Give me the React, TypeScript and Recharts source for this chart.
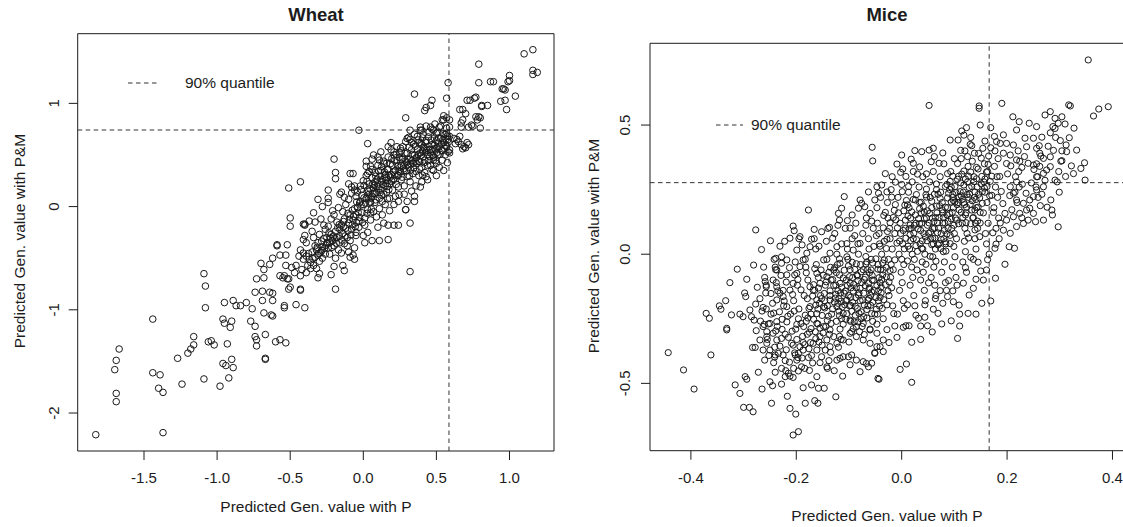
import React from "react";
import { ScatterChart, Scatter, XAxis, YAxis, ReferenceLine, ReferenceArea } from "recharts";

type P = [number, number];

// ---------------- Wheat (x = Predicted Gen. value with P, y = with P&M) ----------------
const wheatTail: P[] = [
  [-1.83,-2.21],[-1.37,-2.19],[-1.69,-1.89],[-1.69,-1.81],[-1.70,-1.58],[-1.69,-1.49],[-1.67,-1.38],[-1.44,-1.09],
  [-1.44,-1.61],[-1.39,-1.63],[-1.40,-1.76],[-1.37,-1.80],[-1.27,-1.47],[-1.24,-1.72],[-1.20,-1.42],[-1.18,-1.38],
  [-1.16,-1.34],[-1.16,-1.26],[-1.09,-1.67],[-1.09,-0.65],[-1.08,-0.77],[-1.08,-0.98],[-1.06,-1.31],[-1.04,-1.30],
  [-1.02,-1.34],[-0.98,-1.74],[-0.95,-0.93],[-0.96,-1.09],[-0.95,-1.13],[-0.93,-1.33],[-0.96,-1.52],[-0.94,-1.54],
  [-0.92,-1.66],[-0.91,-1.17],[-0.90,-1.11],[-0.89,-0.91],[-0.90,-1.48],[-0.89,-1.56],[-0.87,-0.96],[-0.84,-0.96],
  [-0.80,-0.93],[-0.76,-0.99],[-0.77,-1.11],[-0.74,-1.16],[-0.74,-1.26],[-0.73,-1.29],[-0.73,-1.35],[-0.67,-1.48],
  [-0.67,-1.47],[-0.67,-1.24],[-0.68,-1.03],[-0.69,-0.91],[-0.74,-0.83],[-0.73,-0.70],[-0.69,-0.82],[-0.68,-0.69],
  [-0.68,-0.61],[-0.70,-0.55],[-0.64,-0.56],[-0.64,-0.83],[-0.62,-0.84],[-0.63,-1.05],
];
const wheatLower: P[] = [
  [-0.60,-1.31],[-0.57,-1.29],[-0.53,-1.32],[-0.54,-0.98],[-0.46,-0.95],[-0.40,-0.98],[-0.62,-1.06],[-0.62,-0.91],
  [-0.50,-0.78],[-0.43,-0.81],[-0.19,-0.80],[-0.31,-0.69],[-0.22,-0.66],[-0.13,-0.62],[-0.14,-0.57],[-0.55,-0.69],
  [-0.52,-0.70],[-0.57,-0.67],[-0.50,-0.11],[-0.50,-0.19],[-0.40,-0.17],[-0.59,-0.37],[-0.52,-0.37],[-0.53,-0.47],
  [0.01,-0.35],[0.06,-0.33],[0.11,-0.33],[0.17,-0.32],[-0.05,-0.28],[-0.07,-0.47],[-0.09,-0.49],[-0.06,-0.51],
  [0.17,-0.18],[0.21,-0.18],[0.24,-0.18],[0.32,-0.16],[0.29,-0.03],[0.35,0.05],[0.32,-0.63],
  [-0.51,0.18],[-0.43,0.24],[-0.59,-0.38],[-0.62,-0.50],[-0.57,-0.47],[-0.53,-0.57],[-0.49,-0.59],[-0.46,-0.57],
  [-0.42,-0.61],[-0.54,-0.67],[-0.51,-0.70],[-0.47,-0.64],[-0.43,-0.67],[-0.51,-0.80],[-0.43,-0.80],[-0.54,-0.96],
  [-0.41,-0.17],[-0.40,-0.18],[-0.37,-0.14],[-0.40,-0.28],[-0.41,-0.32],[-0.39,-0.35],
  [-0.43,-0.42],[-0.41,-0.45],[-0.44,-0.48],[-0.41,-0.51],[-0.39,-0.48],[-0.37,-0.51],[-0.36,-0.54],[-0.34,-0.57],
  [-0.38,-0.57],[-0.39,-0.64],[-0.36,-0.60],[-0.33,-0.49],[-0.35,-0.44],[-0.31,-0.47],[-0.30,-0.53],[-0.28,-0.50],
  [-0.32,-0.60],[-0.30,-0.65],
];
const wheatBand: P[] = [
  [-0.34,-0.30],[-0.33,-0.38],[-0.32,-0.42],[-0.31,-0.35],[-0.30,-0.27],[-0.29,-0.44],[-0.28,-0.39],[-0.27,-0.31],
  [-0.26,-0.46],[-0.26,-0.22],[-0.33,-0.15],[-0.29,-0.12],[-0.27,-0.18],[-0.35,-0.24],[-0.25,-0.36],[-0.31,0.07],
  [-0.28,0.00],[-0.34,-0.06],
  [-0.25,-0.30],[-0.24,-0.40],[-0.23,-0.35],[-0.22,-0.27],[-0.21,-0.33],[-0.20,-0.38],[-0.19,-0.24],[-0.18,-0.30],
  [-0.17,-0.42],[-0.16,-0.22],[-0.24,-0.19],[-0.22,-0.12],[-0.20,-0.08],[-0.18,-0.15],[-0.16,-0.35],[-0.23,-0.46],
  [-0.19,-0.50],[-0.21,-0.04],[-0.17,-0.01],[-0.24,0.04],[-0.16,0.12],[-0.20,-0.58],[-0.15,-0.45],
  [-0.15,-0.18],[-0.14,-0.26],[-0.13,-0.12],[-0.12,-0.21],[-0.11,-0.30],[-0.10,-0.16],[-0.09,-0.08],[-0.08,-0.22],
  [-0.07,-0.13],[-0.06,-0.02],[-0.14,-0.05],[-0.12,0.02],[-0.10,0.07],[-0.08,0.13],[-0.06,0.20],[-0.11,-0.38],
  [-0.09,-0.33],[-0.13,-0.36],[-0.05,-0.25],[-0.05,0.10],[-0.13,0.09],[-0.10,-0.44],[-0.06,-0.40],
  [-0.05,-0.08],[-0.04,-0.01],[-0.03,-0.14],[-0.02,0.05],[-0.01,-0.06],[0.00,0.02],[0.01,-0.11],[0.02,0.08],
  [0.03,-0.03],[0.04,0.12],[0.05,0.04],[-0.04,0.14],[-0.02,0.20],[0.00,0.25],[0.02,0.30],[0.04,0.22],
  [-0.03,-0.20],[0.01,-0.18],[0.03,-0.25],[0.05,-0.13],[0.02,0.39],[0.04,0.34],[-0.01,0.11],[0.03,0.16],
  [0.05,-0.06],[0.00,-0.28],
  [0.06,0.10],[0.07,0.18],[0.08,0.04],[0.09,0.14],[0.10,0.22],[0.11,0.08],[0.12,0.16],[0.13,0.26],
  [0.14,0.12],[0.15,0.20],[0.06,0.28],[0.08,0.33],[0.10,0.40],[0.12,0.35],[0.14,0.44],[0.07,-0.05],
  [0.09,-0.10],[0.11,-0.02],[0.13,-0.08],[0.15,0.02],[0.10,-0.20],[0.14,-0.16],[0.06,0.46],[0.12,0.53],
  [0.15,0.31],[0.08,0.24],[0.13,0.05],
  [0.16,0.28],[0.17,0.36],[0.18,0.22],[0.19,0.31],[0.20,0.40],[0.21,0.27],[0.22,0.35],[0.23,0.45],
  [0.24,0.30],[0.25,0.38],[0.16,0.14],[0.18,0.08],[0.20,0.16],[0.22,0.10],[0.24,0.19],[0.17,0.48],
  [0.19,0.55],[0.21,0.50],[0.23,0.58],[0.25,0.52],[0.18,-0.04],[0.21,0.02],[0.19,0.62],[0.24,0.05],[0.16,0.42],
  [0.26,0.40],[0.27,0.47],[0.28,0.35],[0.29,0.44],[0.30,0.52],[0.31,0.38],[0.32,0.46],[0.33,0.55],
  [0.34,0.42],[0.35,0.50],[0.26,0.26],[0.28,0.20],[0.30,0.29],[0.32,0.24],[0.34,0.32],[0.27,0.58],
  [0.29,0.63],[0.31,0.67],[0.33,0.62],[0.35,0.70],[0.28,0.12],[0.33,0.15],[0.30,0.05],[0.35,0.10],[0.26,0.54],
  [0.36,0.47],[0.37,0.55],[0.38,0.44],[0.39,0.52],[0.40,0.60],[0.41,0.48],[0.42,0.56],[0.43,0.64],
  [0.44,0.50],[0.45,0.58],[0.36,0.34],[0.38,0.30],[0.40,0.38],[0.42,0.33],[0.44,0.40],[0.37,0.68],
  [0.39,0.74],[0.41,0.70],[0.43,0.78],[0.45,0.72],[0.36,0.20],[0.40,0.24],[0.44,0.26],[0.38,0.62],[0.42,0.45],
  [0.46,0.52],[0.47,0.60],[0.48,0.48],[0.49,0.56],[0.50,0.64],[0.51,0.50],[0.52,0.58],[0.53,0.66],
  [0.54,0.54],[0.55,0.62],[0.56,0.70],[0.57,0.58],[0.46,0.40],[0.48,0.35],[0.50,0.42],[0.52,0.38],
  [0.54,0.45],[0.56,0.50],[0.47,0.75],[0.49,0.80],[0.51,0.72],[0.53,0.78],[0.55,0.84],[0.57,0.76],
  [0.50,0.30],[0.55,0.35],[0.58,0.62],[0.58,0.53],
];
const wheatBandExtra: P[] = [
  [-0.305,-0.455],[-0.285,-0.335],[-0.265,-0.405],[-0.245,-0.345],[-0.235,-0.255],[-0.215,-0.395],[-0.205,-0.285],[-0.185,-0.355],
  [-0.175,-0.205],[-0.165,-0.285],[-0.145,-0.325],[-0.135,-0.195],[-0.125,-0.285],[-0.105,-0.235],[-0.095,-0.125],[-0.085,-0.275],
  [-0.075,-0.175],[-0.065,-0.095],[-0.045,-0.155],[-0.035,-0.055],[-0.025,-0.105],[-0.015,0.015],[-0.005,-0.155],[0.015,0.035],
  [0.025,-0.065],[0.035,0.075],[0.045,0.175],[0.055,0.085],[0.065,0.215],[0.075,0.125],[0.085,0.065],[0.095,0.265],
  [0.105,0.175],[0.115,0.295],[0.125,0.115],[0.135,0.215],[0.145,0.335],[0.155,0.255],[0.165,0.195],[0.175,0.305],
  [0.185,0.415],[0.195,0.245],[0.205,0.335],[0.215,0.445],[0.225,0.215],[0.235,0.395],[0.245,0.475],[0.255,0.335],
  [0.265,0.455],[0.275,0.395],[0.285,0.515],[0.295,0.345],[0.305,0.455],[0.315,0.575],[0.325,0.415],[0.335,0.505],
  [0.345,0.375],[0.355,0.585],[0.365,0.415],[0.375,0.505],[0.385,0.365],[0.395,0.615],[0.405,0.535],[0.415,0.425],
  [0.425,0.625],[0.435,0.545],[0.445,0.675],[0.455,0.485],[0.465,0.645],[0.475,0.555],[0.485,0.665],[0.495,0.445],
  [0.505,0.575],[0.515,0.665],[0.525,0.505],[0.535,0.605],[0.545,0.705],[0.555,0.565],[0.565,0.655],[0.575,0.425],
  [-0.015,0.165],[0.005,0.205],[0.025,0.245],[0.105,0.345],[-0.055,-0.195],[0.055,-0.025],[0.165,0.075],[0.245,0.115],
  [0.315,0.295],[0.405,0.305],
];
const wheatBandExtra2: P[] = [
  [0.005,0.085],[0.035,0.145],[0.065,0.125],[0.095,0.195],[0.125,0.245],[0.155,0.225],[0.185,0.285],[0.215,0.305],
  [0.245,0.345],[0.275,0.365],[0.305,0.405],[0.335,0.445],[0.365,0.475],[0.395,0.495],[0.425,0.525],[0.455,0.555],
  [0.485,0.595],[0.515,0.615],[0.545,0.645],[0.575,0.685],[-0.025,0.035],[0.045,0.045],[0.075,0.205],[0.115,0.135],
  [0.145,0.285],[0.175,0.165],[0.205,0.255],[0.235,0.305],[0.265,0.285],[0.295,0.425],[0.325,0.355],[0.355,0.435],
  [0.385,0.435],[0.415,0.575],[0.445,0.445],[0.475,0.495],[0.505,0.525],[0.535,0.545],[0.565,0.595],[-0.105,-0.065],
  [-0.135,-0.145],[-0.165,-0.175],[-0.195,-0.305],[-0.225,-0.305],[-0.255,-0.375],[-0.285,-0.425],[-0.315,-0.395],[-0.345,-0.505],
  [-0.375,-0.455],[-0.075,-0.035],[-0.045,0.045],[0.085,0.295],[0.125,0.385],[0.165,0.355],[0.195,0.465],[0.225,0.505],
  [0.255,0.565],[0.345,0.605],[0.375,0.645],[0.405,0.665],
];
const wheatUpper: P[] = [
  [1.16,1.52],[1.10,1.48],[1.16,1.32],[1.19,1.30],[1.16,1.28],[0.79,1.38],[0.79,1.20],[0.87,1.21],
  [0.89,1.21],[1.00,1.27],[1.00,1.22],[0.99,1.21],[0.96,1.14],[0.97,1.13],[0.95,1.14],[1.04,1.07],
  [0.94,1.02],[0.97,1.03],[0.98,0.94],[0.85,0.98],[0.81,0.98],[0.77,1.06],[0.73,1.03],[0.58,1.20],
  [0.57,1.05],[0.35,1.09],[0.47,1.03],[0.46,0.98],[0.43,0.96],[0.42,0.93],[0.29,0.86],[0.55,0.88],
  [0.57,0.86],[0.59,0.84],[0.66,0.94],[0.68,0.94],[0.70,0.90],[0.68,0.84],[0.67,0.81],[0.79,0.87],
  [0.78,0.84],[0.80,0.86],[0.74,0.79],[0.75,0.78],[0.72,0.77],[0.80,0.76],[0.67,0.77],[0.65,0.63],
  [0.67,0.60],[0.69,0.58],[0.71,0.62],[0.64,0.65],[0.66,0.68],[0.70,0.57],[0.72,0.60],[0.68,0.56],
  [0.62,0.66],[0.63,0.61],[0.59,0.77],[0.57,0.71],[0.59,0.68],[0.58,0.65],[0.59,0.55],[0.59,0.52],
  [0.52,0.77],[0.54,0.84],[0.50,0.71],[0.48,0.74],[0.46,0.77],[0.48,0.45],[0.47,0.36],[0.43,0.29],
  [0.39,0.19],[0.29,-0.03],[0.30,0.66],[0.32,0.65],[0.39,0.77],[0.40,0.74],[-0.03,0.74],
  [0.32,0.74],[0.03,0.61],[-0.20,0.46],[-0.19,0.33],[-0.19,0.27],[-0.24,0.16],[-0.24,0.08],[-0.15,0.14],
  [-0.09,0.32],[-0.07,0.32],[-0.10,0.22],[-0.08,0.19],[-0.06,0.16],[0.07,0.50],[0.10,0.48],[0.11,0.45],
  [0.14,0.42],[0.17,0.58],[0.21,0.53],[0.02,0.44],[0.05,0.39],[0.06,0.36],[0.03,0.32],[0.71,1.03],
  [0.76,1.05],[0.81,0.97],[0.77,0.87],
];

// ---------------- Mice ----------------
const miceHigh: P[] = [
  [0.354,0.752],[0.052,0.576],[0.147,0.574],[0.147,0.565],[0.19,0.584],[0.317,0.578],[0.32,0.574],[0.392,0.571],
  [0.374,0.562],[0.364,0.535],[0.211,0.532],[0.169,0.49],[0.149,0.5],[0.123,0.49],[0.114,0.477],[0.118,0.461],
  [0.272,0.539],[0.282,0.552],[0.291,0.526],[0.304,0.532],[0.297,0.507],[0.287,0.494],[0.282,0.47],[0.291,0.487],
  [0.31,0.504],[0.223,0.513],[0.242,0.507],[0.256,0.494],[0.218,0.481],[0.092,0.442],[0.107,0.442],[0.13,0.425],
  [0.312,0.423],[0.332,0.403],[0.313,0.397],[0.347,0.354],[0.34,0.332],[0.348,0.287],[0.291,0.287],[0.283,0.21],
  [0.285,0.171],[0.286,0.152],[0.297,0.106],[0.269,0.132],[0.254,0.126],
  [-0.056,0.414],[-0.055,0.361],[0.0,0.384],[0.025,0.401],[0.038,0.397],[0.052,0.403],[0.06,0.41],[-0.009,0.349],
  [-0.002,0.317],[0.022,0.352],[0.03,0.31],[0.056,0.358],[0.071,0.352],
  [0.18,0.436],[0.187,0.429],[0.199,0.429],[0.212,0.423],[0.234,0.449],[0.25,0.449],[0.266,0.453],[0.237,0.416],
  [0.256,0.41],[0.193,0.391],[0.206,0.384],[0.218,0.365],[0.24,0.352],[0.25,0.345],[0.262,0.391],[0.269,0.371],
  [0.282,0.377],[0.275,0.326],[0.282,0.339],[0.269,0.313],[0.256,0.3],
  [0.206,0.261],[0.212,0.236],[0.218,0.21],[0.231,0.197],[0.243,0.21],[0.25,0.223],[0.256,0.249],[0.269,0.261],
  [0.237,0.171],[0.224,0.158],[0.212,0.145],[0.199,0.132],[0.193,0.093],[0.206,0.081],[0.218,0.107],[0.231,0.119],
  [0.24,0.132],[0.25,0.158],
];
const miceUpperLeft: P[] = [
  [-0.109,0.223],[-0.177,0.171],[-0.277,0.094],[-0.206,0.109],[-0.204,0.091],[-0.212,0.062],[-0.193,0.068],[-0.166,0.096],
  [-0.137,0.104],[-0.12,0.158],[-0.114,0.178],[-0.118,0.132],[-0.103,0.13],[-0.094,0.152],[-0.082,0.178],[-0.076,0.197],
  [-0.079,0.21],[-0.07,0.184],[-0.06,0.158],[-0.051,0.21],[-0.044,0.236],[-0.047,0.261],
];
const miceLowerRight: P[] = [
  [0.214,0.023],[0.204,0.029],[0.196,-0.039],[0.179,0.039],[0.177,0.023],[0.178,-0.093],[0.161,-0.061],[0.15,-0.065],
  [0.155,-0.1],[0.141,-0.097],[0.136,-0.132],[0.152,-0.19],[0.169,-0.181],[0.141,-0.232],[0.126,-0.229],[0.11,-0.232],
  [0.109,-0.197],[0.11,-0.278],[0.106,-0.326],[0.098,-0.184],[0.087,-0.164],[0.078,-0.19],[0.076,-0.27],[0.06,-0.213],
  [0.069,-0.229],[0.049,-0.277],[0.044,-0.244],[0.036,-0.278],[0.036,-0.33],[0.032,-0.248],[0.019,-0.341],[0.009,-0.425],
  [-0.003,-0.446],[0.019,-0.496],[-0.043,-0.484],[-0.057,-0.422],[0.003,-0.283],[0.008,-0.277],[0.014,-0.277],[-0.035,-0.332],
  [-0.035,-0.377],[-0.051,-0.381],[-0.041,-0.358],
];
const miceLowerLeft: P[] = [
  [-0.443,-0.381],[-0.414,-0.448],[-0.394,-0.522],[-0.362,-0.39],[-0.371,-0.229],[-0.365,-0.248],[-0.332,-0.287],[-0.332,-0.293],
  [-0.343,-0.213],[-0.334,-0.18],[-0.326,-0.11],[-0.312,-0.058],[-0.294,-0.097],[-0.296,-0.164],[-0.323,-0.235],[-0.307,-0.232],
  [-0.301,-0.242],[-0.288,-0.216],[-0.285,-0.242],[-0.277,-0.193],[-0.28,-0.255],[-0.263,-0.206],[-0.268,-0.259],[-0.253,-0.27],
  [-0.256,-0.319],[-0.283,-0.361],[-0.278,-0.361],[-0.297,-0.474],[-0.294,-0.484],[-0.316,-0.506],[-0.307,-0.539],[-0.3,-0.593],
  [-0.289,-0.593],[-0.282,-0.61],[-0.272,-0.457],[-0.265,-0.522],[-0.25,-0.494],[-0.245,-0.509],[-0.247,-0.577],[-0.24,-0.457],
  [-0.228,-0.442],[-0.22,-0.451],[-0.221,-0.474],[-0.212,-0.472],[-0.206,-0.477],[-0.215,-0.461],[-0.228,-0.503],[-0.212,-0.597],
  [-0.201,-0.619],[-0.206,-0.7],[-0.196,-0.687],[-0.183,-0.577],[-0.187,-0.517],[-0.171,-0.506],[-0.161,-0.474],[-0.158,-0.519],
  [-0.147,-0.519],[-0.165,-0.567],[-0.159,-0.577],[-0.125,-0.552],[-0.142,-0.436],[-0.141,-0.442],
  [-0.263,-0.371],[-0.25,-0.371],[-0.24,-0.39],[-0.234,-0.384],[-0.225,-0.39],[-0.256,-0.345],[-0.237,-0.332],[-0.228,-0.326],
  [-0.244,-0.306],[-0.256,-0.3],[-0.263,-0.28],[-0.25,-0.268],[-0.237,-0.261],[-0.199,-0.41],[-0.202,-0.39],[-0.196,-0.384],
  [-0.193,-0.358],[-0.187,-0.371],[-0.19,-0.436],[-0.184,-0.442],[-0.206,-0.352],[-0.209,-0.345],[-0.123,-0.41],[-0.117,-0.403],
  [-0.111,-0.397],[-0.101,-0.397],[-0.095,-0.39],[-0.086,-0.41],[-0.079,-0.455],[-0.067,-0.423],[-0.063,-0.436],[-0.051,-0.384],
  [-0.045,-0.481],[-0.073,-0.416],[-0.298,-0.15],[-0.346,-0.2],[-0.26,-0.09],[-0.24,-0.05],[-0.239,-0.016],[-0.228,-0.01],
];
const miceCoreLeft: P[] = [
  [-0.237,-0.177],[-0.225,-0.164],[-0.218,-0.203],[-0.212,-0.139],[-0.206,-0.113],[-0.199,-0.074],[-0.193,-0.048],[-0.187,-0.022],
  [-0.18,0.004],[-0.199,0.016],[-0.174,0.029],[-0.218,-0.022],[-0.228,-0.035],[-0.237,-0.061],[-0.244,-0.1],[-0.237,-0.126],
  [-0.259,-0.106],[-0.257,-0.126],[-0.231,-0.151],
  [-0.161,-0.268],[-0.148,-0.28],[-0.136,-0.293],[-0.155,-0.319],[-0.142,-0.332],[-0.129,-0.319],[-0.123,-0.345],[-0.168,-0.345],
  [-0.161,-0.371],[-0.145,-0.371],[-0.136,-0.358],[-0.111,-0.332],[-0.098,-0.306],[-0.086,-0.319],[-0.073,-0.332],[-0.06,-0.345],
  [-0.047,-0.358],[-0.174,-0.203],[-0.161,-0.177],[-0.148,-0.203],[-0.136,-0.177],[-0.123,-0.203],[-0.111,-0.229],[-0.098,-0.255],
  [-0.086,-0.28],[-0.073,-0.268],[-0.06,-0.293],[-0.047,-0.306],[-0.168,-0.139],[-0.155,-0.113],[-0.142,-0.087],[-0.129,-0.061],
  [-0.117,-0.035],[-0.104,-0.01],[-0.092,0.016],[-0.079,0.042],[-0.161,-0.074],[-0.148,-0.022],[-0.136,0.004],[-0.123,0.029],
  [-0.262,-0.05],[-0.258,-0.15],[-0.265,-0.22],[-0.255,-0.33],[-0.26,-0.41],[-0.257,-0.12],
  [-0.242,-0.02],[-0.238,-0.11],[-0.245,-0.19],[-0.236,-0.28],[-0.241,-0.36],[-0.239,-0.06],[-0.243,-0.42],
  [-0.222,0.05],[-0.218,-0.08],[-0.225,-0.14],[-0.216,-0.24],[-0.221,-0.31],[-0.219,-0.37],[-0.224,-0.2],[-0.217,-0.55],
  [-0.202,-0.03],[-0.198,-0.12],[-0.205,-0.18],[-0.196,-0.25],[-0.201,-0.29],[-0.199,-0.33],[-0.204,-0.22],[-0.197,-0.4],
  [-0.203,-0.08],[-0.195,0.06],
  [-0.182,-0.05],[-0.178,-0.1],[-0.185,-0.16],[-0.176,-0.21],[-0.181,-0.26],[-0.179,-0.31],[-0.184,-0.35],[-0.177,-0.4],
  [-0.183,-0.02],[-0.175,-0.45],[-0.186,-0.28],
  [-0.162,-0.04],[-0.158,-0.09],[-0.165,-0.14],[-0.156,-0.19],[-0.161,-0.23],[-0.159,-0.27],[-0.164,-0.3],[-0.157,-0.34],
  [-0.163,0.02],[-0.155,-0.42],[-0.166,0.06],[-0.154,-0.16],
  [-0.142,-0.02],[-0.138,-0.07],[-0.145,-0.12],[-0.136,-0.16],[-0.141,-0.2],[-0.139,-0.24],[-0.144,-0.28],[-0.137,-0.31],
  [-0.143,0.05],[-0.135,-0.38],[-0.146,-0.18],[-0.134,-0.1],[-0.14,0.1],
  [-0.122,-0.04],[-0.118,-0.08],[-0.125,-0.12],[-0.116,-0.15],[-0.121,-0.19],[-0.119,-0.22],[-0.124,-0.26],[-0.117,-0.29],
  [-0.123,0.0],[-0.115,-0.33],[-0.126,-0.17],[-0.114,0.04],[-0.12,-0.36],[-0.127,0.08],
  [-0.102,-0.02],[-0.098,-0.06],[-0.105,-0.1],[-0.096,-0.13],[-0.101,-0.16],[-0.099,-0.2],[-0.104,-0.23],[-0.097,-0.26],
  [-0.103,0.02],[-0.095,-0.3],[-0.106,-0.18],[-0.094,0.06],[-0.1,-0.34],[-0.107,0.1],[-0.093,-0.09],
  [-0.082,0.0],[-0.078,-0.04],[-0.085,-0.08],[-0.076,-0.11],[-0.081,-0.15],[-0.079,-0.18],[-0.084,-0.21],[-0.077,-0.25],
  [-0.083,0.04],[-0.075,-0.28],[-0.086,-0.13],[-0.074,0.08],[-0.08,-0.3],[-0.087,0.12],[-0.073,-0.06],
];
const miceCoreRight: P[] = [
  [-0.062,0.02],[-0.058,-0.02],[-0.065,-0.06],[-0.056,-0.1],[-0.061,-0.13],[-0.059,-0.16],[-0.064,-0.2],[-0.057,-0.23],
  [-0.063,0.06],[-0.055,-0.26],[-0.066,-0.03],[-0.054,0.1],[-0.06,-0.29],[-0.067,0.14],[-0.053,0.03],
  [-0.042,0.04],[-0.038,0.0],[-0.045,-0.04],[-0.036,-0.08],[-0.041,-0.11],[-0.039,-0.15],[-0.044,-0.18],[-0.037,-0.21],
  [-0.043,0.08],[-0.035,-0.25],[-0.046,0.12],[-0.034,0.15],[-0.04,-0.06],[-0.047,0.18],[-0.033,0.05],[-0.04,0.22],
  [-0.022,0.06],[-0.018,0.02],[-0.025,-0.02],[-0.016,-0.06],[-0.021,-0.09],[-0.019,-0.13],[-0.024,-0.16],[-0.017,-0.2],
  [-0.023,0.1],[-0.015,-0.23],[-0.026,0.14],[-0.014,0.17],[-0.02,-0.04],[-0.027,0.2],[-0.013,0.08],[-0.02,0.25],[-0.018,0.3],
  [-0.002,0.08],[0.002,0.04],[-0.005,0.0],[0.004,-0.04],[-0.001,-0.07],[0.001,-0.11],[-0.004,-0.14],[0.003,-0.18],
  [-0.003,0.12],[0.005,-0.21],[-0.006,0.16],[0.006,0.19],[0.0,-0.02],[-0.007,0.22],[0.007,0.1],[0.0,0.27],[0.002,0.33],
  [0.018,0.1],[0.022,0.06],[0.015,0.02],[0.024,-0.02],[0.019,-0.05],[0.021,-0.09],[0.016,-0.12],[0.023,-0.16],
  [0.017,0.14],[0.025,-0.2],[0.014,0.18],[0.026,0.21],[0.02,0.0],[0.013,0.24],[0.027,0.12],[0.02,0.28],[0.022,0.32],
  [0.038,0.12],[0.042,0.08],[0.035,0.04],[0.044,0.0],[0.039,-0.03],[0.041,-0.07],[0.036,-0.1],[0.043,-0.14],
  [0.037,0.16],[0.045,-0.18],[0.034,0.2],[0.046,0.23],[0.04,0.02],[0.033,0.26],[0.047,0.14],[0.04,0.3],
  [0.058,0.14],[0.062,0.1],[0.055,0.06],[0.064,0.02],[0.059,-0.01],[0.061,-0.05],[0.056,-0.09],[0.063,-0.12],
  [0.057,0.18],[0.065,-0.16],[0.054,0.22],[0.066,0.25],[0.06,0.04],[0.053,0.28],[0.067,0.16],[0.06,0.32],
  [0.078,0.16],[0.082,0.12],[0.075,0.08],[0.084,0.04],[0.079,0.01],[0.081,-0.03],[0.076,-0.07],[0.083,-0.11],
  [0.077,0.2],[0.085,-0.14],[0.074,0.24],[0.086,0.27],[0.08,0.06],[0.073,0.3],[0.087,0.18],[0.08,0.35],
  [0.098,0.18],[0.102,0.14],[0.095,0.1],[0.104,0.06],[0.099,0.03],[0.101,-0.01],[0.096,-0.05],[0.103,-0.09],
  [0.097,0.22],[0.105,-0.12],[0.094,0.26],[0.106,0.29],[0.1,0.08],[0.093,0.32],[0.107,0.2],[0.1,0.37],
  [0.118,0.2],[0.122,0.16],[0.115,0.12],[0.124,0.08],[0.119,0.05],[0.121,0.01],[0.116,-0.03],[0.123,-0.07],
  [0.117,0.24],[0.125,0.28],[0.114,0.31],[0.126,0.34],[0.12,0.1],[0.113,0.37],[0.127,0.22],[0.12,0.4],
  [0.138,0.22],[0.142,0.18],[0.135,0.14],[0.144,0.1],[0.139,0.06],[0.141,0.02],[0.136,-0.02],[0.143,0.26],
  [0.137,0.3],[0.145,0.33],[0.134,0.36],[0.146,0.39],[0.14,0.12],[0.133,0.42],
  [0.158,0.24],[0.162,0.2],[0.155,0.16],[0.164,0.12],[0.159,0.08],[0.161,0.04],[0.156,0.28],[0.163,0.32],
  [0.157,0.35],[0.165,0.38],[0.154,0.41],[0.166,0.0],
  [0.178,0.26],[0.182,0.22],[0.175,0.18],[0.184,0.14],[0.179,0.1],[0.181,0.3],[0.176,0.34],[0.183,0.37],
  [0.177,0.4],[0.185,0.06],
  [0.218,0.28],[0.222,0.32],[0.215,0.24],[0.224,0.36],[0.219,0.2],[0.221,0.4],[0.216,0.3],[0.223,0.26],
  [0.258,0.3],[0.262,0.34],[0.255,0.26],[0.264,0.38],[0.259,0.22],[0.261,0.42],[0.256,0.35],
  [0.298,0.32],[0.302,0.36],[0.295,0.28],[0.304,0.4],[0.299,0.24],[0.301,0.44],
];
const miceDenseA: P[] = [
  [-0.128,-0.185],[-0.113,-0.205],[-0.107,-0.143],[-0.091,-0.117],[-0.088,-0.236],[-0.071,-0.197],[-0.069,-0.089],[-0.052,-0.141],
  [-0.048,-0.213],[-0.031,-0.118],[-0.029,-0.051],[-0.117,-0.113],[-0.109,-0.062],[-0.094,-0.031],[-0.087,-0.168],[-0.066,-0.247],
  [-0.058,-0.061],[-0.049,-0.018],[-0.133,-0.232],[-0.127,-0.052],[-0.111,-0.271],[-0.097,-0.198],[-0.083,-0.102],[-0.072,-0.151],
  [-0.063,-0.112],[-0.041,-0.167],[-0.036,-0.034],[-0.121,-0.141],[-0.104,-0.178],[-0.089,-0.059],[-0.077,-0.223],[-0.068,-0.038],
  [-0.055,-0.186],[-0.043,-0.091],[-0.131,-0.098],[-0.114,-0.249],[-0.099,-0.087],[-0.083,-0.262],[-0.062,-0.171],[-0.046,-0.232],
  [-0.151,-0.237],[-0.147,-0.152],[-0.153,-0.061],[-0.167,-0.118],[-0.172,-0.232],[-0.149,-0.305],[-0.134,-0.268],[-0.118,-0.318],
  [-0.092,-0.288],[-0.071,-0.311],
];
const miceDenseB: P[] = [
  [0.008,0.062],[0.012,0.148],[0.027,0.033],[0.031,0.098],[0.034,0.176],[0.048,0.052],[0.052,0.121],[0.057,0.205],
  [0.068,0.083],[0.071,0.142],[0.074,0.022],[0.088,0.101],[0.091,0.157],[0.011,-0.026],[0.029,-0.061],[0.046,-0.039],
  [0.065,-0.027],[0.083,0.048],[0.009,0.208],[0.028,0.231],[0.049,0.168],[0.063,0.062],[0.078,0.121],[0.092,0.041],
  [0.016,0.113],[0.043,0.137],[0.059,0.099],[0.072,0.188],[0.087,0.218],[0.004,0.168],[0.023,0.082],[0.038,0.023],
  [0.054,-0.008],[0.069,0.036],[0.086,0.078],[-0.009,0.043],[-0.011,0.133],[-0.027,0.088],[-0.031,0.162],[-0.048,0.072],
  [-0.013,-0.022],[-0.029,0.022],[0.047,0.252],[0.066,0.272],[0.013,0.262],
];
const miceDenseC: P[] = [
  [0.091,0.251],[0.097,0.302],[0.103,0.238],[0.109,0.172],[0.112,0.276],[0.118,0.322],[0.123,0.182],[0.128,0.258],
  [0.131,0.118],[0.134,0.207],[0.137,0.281],[0.142,0.336],[0.146,0.232],[0.149,0.162],[0.152,0.301],[0.108,0.118],
  [0.116,0.142],[0.127,0.063],[0.139,0.094],[0.148,0.068],[0.094,0.137],[0.101,0.202],[0.113,0.226],[0.121,0.291],
  [0.133,0.171],[0.144,0.128],[0.153,0.197],[0.157,0.256],[0.161,0.318],[0.168,0.282],[0.171,0.228],[0.174,0.162],
  [0.186,0.301],[0.189,0.243],[0.192,0.196],[0.196,0.158],[0.199,0.351],[0.201,0.311],[0.205,0.227],[0.209,0.172],
  [0.164,0.348],[0.151,0.372],[0.138,0.391],[0.125,0.378],[0.106,0.351],[0.087,0.312],
];
const miceDenseD: P[] = [
  [-0.125,-0.155],[-0.119,-0.172],[-0.114,-0.128],[-0.108,-0.196],[-0.103,-0.121],[-0.097,-0.167],[-0.092,-0.143],[-0.088,-0.201],
  [-0.084,-0.084],[-0.079,-0.132],[-0.074,-0.178],[-0.069,-0.122],[-0.066,-0.214],[-0.061,-0.071],[-0.057,-0.146],[-0.053,-0.101],
  [-0.049,-0.168],[-0.045,-0.058],[-0.039,-0.127],[-0.034,-0.176],[-0.029,-0.088],[-0.026,-0.142],[-0.022,-0.063],[-0.124,-0.071],
  [-0.118,-0.238],[-0.111,-0.092],[-0.106,-0.252],[-0.101,-0.045],[-0.095,-0.221],[-0.09,-0.262],[-0.086,-0.037],[-0.081,-0.229],
  [-0.077,-0.068],[-0.072,-0.242],[-0.068,-0.009],[-0.064,-0.177],[-0.059,-0.198],[-0.055,-0.034],[-0.051,-0.232],[-0.047,-0.121],
  [-0.042,-0.201],[-0.038,-0.098],[-0.033,-0.022],[-0.028,-0.196],[-0.024,-0.107],[-0.115,-0.182],[-0.109,-0.151],[-0.098,-0.112],
  [-0.093,-0.187],[-0.082,-0.158],[-0.071,-0.098],[-0.062,-0.135],[-0.056,-0.082],[-0.044,-0.141],[-0.035,-0.061],[-0.131,-0.212],
  [-0.136,-0.142],[-0.129,-0.121],[-0.141,-0.257],[-0.146,-0.208],[-0.152,-0.172],[-0.158,-0.131],[-0.163,-0.197],[-0.169,-0.162],
  [-0.174,-0.126],[-0.143,-0.107],[-0.149,-0.081],[-0.135,-0.051],[-0.118,-0.018],[-0.104,0.041],
];
const miceDenseE: P[] = [
  [-0.004,0.051],[0.003,0.092],[0.007,0.132],[0.012,0.031],[0.016,0.076],[0.019,0.164],[0.024,0.112],[0.028,0.057],
  [0.032,0.137],[0.036,0.092],[0.041,0.186],[0.045,0.067],[0.049,0.112],[0.053,0.158],[0.057,0.037],[0.061,0.126],
  [0.066,0.186],[0.07,0.101],[0.075,0.057],[0.079,0.142],[0.083,0.182],[0.088,0.127],[0.092,0.073],[0.096,0.162],
  [0.005,0.021],[0.011,0.191],[0.022,0.212],[0.03,0.011],[0.039,0.052],[0.047,0.221],[0.055,0.087],[0.064,0.142],
  [0.073,0.216],[0.081,0.092],[0.089,0.236],[0.094,0.202],[-0.008,0.102],[-0.016,0.142],[-0.022,0.122],[-0.028,0.058],
  [-0.035,0.102],[-0.041,0.031],[-0.012,0.192],[-0.019,0.221],[0.001,0.242],[0.017,0.053],[0.026,0.152],[0.034,0.118],
  [0.043,0.163],[0.051,0.081],[0.059,0.061],[0.068,0.121],[0.077,0.172],[0.086,0.152],[0.014,0.098],[0.037,0.201],
  [0.062,0.232],[0.071,0.042],[0.084,0.012],[0.099,0.112],
];
const miceDenseF: P[] = [
  [0.092,0.282],[0.097,0.232],[0.101,0.262],[0.105,0.192],[0.108,0.302],[0.111,0.242],[0.115,0.212],[0.118,0.268],
  [0.121,0.152],[0.124,0.231],[0.127,0.302],[0.13,0.192],[0.133,0.262],[0.136,0.142],[0.139,0.241],[0.142,0.292],
  [0.145,0.182],[0.148,0.218],[0.151,0.272],[0.104,0.132],[0.113,0.162],[0.122,0.122],[0.131,0.318],[0.141,0.212],
  [0.149,0.121],[0.098,0.208],[0.109,0.222],[0.119,0.192],[0.129,0.232],[0.139,0.171],[0.153,0.242],[0.158,0.291],
  [0.162,0.262],[0.167,0.226],[0.171,0.302],
];
const miceDenseG: P[] = [
  [-0.248,-0.152],[-0.243,-0.228],[-0.239,-0.297],[-0.235,-0.142],[-0.231,-0.356],[-0.227,-0.252],[-0.223,-0.181],[-0.219,-0.108],
  [-0.215,-0.322],[-0.211,-0.232],[-0.207,-0.156],[-0.203,-0.382],[-0.199,-0.272],[-0.195,-0.212],[-0.191,-0.138],[-0.187,-0.342],
  [-0.183,-0.236],[-0.179,-0.172],[-0.175,-0.302],[-0.171,-0.392],[-0.167,-0.252],[-0.163,-0.327],[-0.159,-0.212],[-0.155,-0.286],
  [-0.151,-0.352],[-0.229,-0.082],[-0.213,-0.052],[-0.197,-0.098],[-0.181,-0.072],[-0.165,-0.056],[-0.241,-0.398],[-0.221,-0.412],
  [-0.205,-0.442],[-0.189,-0.402],[-0.173,-0.342],[-0.257,-0.212],[-0.261,-0.272],[-0.252,-0.392],[-0.269,-0.332],[-0.276,-0.296],
];
const miceSpread: P[] = [
  [-0.218,-0.262],[-0.208,-0.298],[-0.191,-0.268],[-0.188,-0.318],[-0.178,-0.247],[-0.172,-0.288],[-0.213,-0.418],[-0.196,-0.452],
  [-0.176,-0.366],[-0.169,-0.421],[-0.152,-0.397],[-0.138,-0.412],[-0.128,-0.451],[-0.112,-0.472],[-0.098,-0.428],[-0.227,-0.291],
  [-0.232,-0.223],[-0.248,-0.232],[-0.269,-0.172],[-0.274,-0.128],[-0.281,-0.042],[-0.266,0.018],[-0.249,0.052],[-0.231,0.031],
  [-0.189,0.036],[-0.171,0.058],[-0.157,0.031],[-0.152,0.087],[-0.131,0.062],[-0.121,0.112],[-0.098,0.101],[-0.089,0.072],
  [-0.068,0.112],[-0.057,0.128],[-0.063,0.241],[-0.038,0.268],[-0.028,0.241],[-0.031,0.312],[-0.012,0.279],[0.008,0.301],
  [0.018,0.368],[0.034,0.338],[0.047,0.311],[0.062,0.378],[0.078,0.392],[0.083,0.262],[0.069,0.232],[0.112,0.402],
  [0.131,0.452],[0.158,0.438],[0.169,0.412],[0.176,0.456],[0.193,0.462],[0.207,0.342],[0.228,0.336],[0.233,0.378],
  [0.246,0.276],[0.251,0.328],[0.236,0.236],[0.229,0.271],[0.272,0.286],[0.266,0.232],[0.276,0.182],[0.263,0.188],
  [0.243,0.178],[0.228,0.141],[0.187,0.121],[0.173,0.083],[0.163,-0.021],[0.145,-0.031],[0.131,-0.012],[0.121,-0.052],
  [0.117,-0.112],[0.097,-0.142],[0.089,-0.102],[0.073,-0.141],[0.064,-0.172],[0.051,-0.111],[0.044,-0.196],[0.027,-0.236],
  [0.011,-0.196],[-0.008,-0.232],[-0.013,-0.278],[-0.028,-0.292],[-0.047,-0.271],[-0.024,-0.342],[-0.009,-0.322],[0.128,-0.158],
  [0.094,-0.258],[0.058,-0.301],[0.292,0.452],[0.318,0.451],[0.327,0.488],[0.304,0.362],[0.322,0.342],[0.288,0.402],
  [0.278,0.418],[0.311,0.301],[0.326,0.312],
];

// ---------------- axes, ticks, quantile lines ----------------
const wheatXTicks = [-1.5, -1.0, -0.5, 0.0, 0.5, 1.0];
const wheatYTicks = [-2, -1, 0, 1];
const miceXTicks = [-0.4, -0.2, 0.0, 0.2, 0.4];
const miceYTicks = [-0.5, 0.0, 0.5];
const wheatXDomain: [number, number] = [-1.9535, 1.3044];
const wheatYDomain: [number, number] = [-2.368, 1.675];
const miceXDomain: [number, number] = [-0.4776, 0.423];
const miceYDomain: [number, number] = [-0.7607, 0.8165];
const wheatQuantileP = 0.586;
const wheatQuantilePM = 0.742;
const miceQuantileP = 0.166;
const miceQuantilePM = 0.277;

const toObj = (arr: P[]) => arr.map(([x, y]) => ({ x, y }));
const wheatData = toObj([...wheatTail, ...wheatLower, ...wheatBand, ...wheatBandExtra, ...wheatBandExtra2, ...wheatUpper]);
const miceData = toObj([
  ...miceHigh, ...miceUpperLeft, ...miceLowerRight, ...miceLowerLeft, ...miceCoreLeft, ...miceCoreRight,
  ...miceDenseA, ...miceDenseB, ...miceDenseC, ...miceDenseD, ...miceDenseE, ...miceDenseF, ...miceDenseG, ...miceSpread,
]);

const FONT = '"Liberation Sans", Arial, Helvetica, sans-serif';
const INK = "#1c1c1c";

const makeXTick = (fmt: (v: number) => string, dy: number) => (props: any) => {
  const { x, y, payload } = props;
  return (
    <text x={x} y={y + dy} textAnchor="middle" dominantBaseline="central" fontSize={15} fontFamily={FONT} fill={INK}>
      {fmt(payload.value)}
    </text>
  );
};
const makeYTick = (fmt: (v: number) => string, dx: number) => (props: any) => {
  const { x, y, payload } = props;
  return (
    <text transform={`translate(${x - dx},${y}) rotate(-90)`} x={0} y={0} textAnchor="middle" dominantBaseline="central" fontSize={15} fontFamily={FONT} fill={INK}>
      {fmt(payload.value)}
    </text>
  );
};

const circleShape = (r: number) => (props: any) => (
  <circle cx={props.cx} cy={props.cy} r={r} fill="none" stroke="#1a1a1a" strokeWidth={1} />
);

const fmt1 = (v: number) => v.toFixed(1);
const fmt0 = (v: number) => v.toFixed(0);

const abs = (l: number, t: number): React.CSSProperties => ({ position: "absolute", left: l, top: t });

function Label({ cx, cy, text, size = 15.5, bold = false, rotate = false }: { cx: number; cy: number; text: string; size?: number; bold?: boolean; rotate?: boolean }) {
  const w = 400;
  return (
    <div
      style={{
        position: "absolute", left: cx - w / 2, top: cy - 12, width: w, height: 24, lineHeight: "24px",
        textAlign: "center", fontSize: size, fontWeight: bold ? 700 : 400, fontFamily: FONT, color: INK,
        transform: rotate ? "rotate(-90deg)" : undefined, whiteSpace: "nowrap",
      }}
    >
      {text}
    </div>
  );
}

function LegendKey({ x1, x2, y, tx }: { x1: number; x2: number; y: number; tx: number }) {
  return (
    <>
      <svg style={{ position: "absolute", left: x1, top: y - 2 }} width={x2 - x1} height={4}>
        <line x1={0} y1={2} x2={x2 - x1} y2={2} stroke="#333" strokeWidth={1} strokeDasharray="4.5 3.5" />
      </svg>
      <div style={{ position: "absolute", left: tx, top: y - 12, height: 24, lineHeight: "24px", fontSize: 15.5, fontFamily: FONT, color: INK, whiteSpace: "nowrap" }}>
        90% quantile
      </div>
    </>
  );
}

export default function App() {
  return (
    <div style={{ position: "absolute", left: 0, top: 0, width: 1123, height: 527, overflow: "hidden", background: "#fff", fontFamily: FONT }}>
      {/* Wheat */}
      <div style={abs(0, 0)}>
        <ScatterChart width={600} height={527} margin={{ top: 33.7, right: 46, bottom: 36, left: 37.7 }}>
          <XAxis dataKey="x" type="number" domain={wheatXDomain} ticks={wheatXTicks} allowDataOverflow interval={0}
            axisLine={false} tickLine={{ stroke: INK }} tickSize={9} tickMargin={0} height={40} tick={makeXTick(fmt1, 17)} />
          <YAxis dataKey="y" type="number" domain={wheatYDomain} ticks={wheatYTicks} allowDataOverflow interval={0}
            axisLine={false} tickLine={{ stroke: INK }} tickSize={9} tickMargin={0} width={40} tick={makeYTick(fmt0, 15)} />
          <ReferenceArea x1={wheatXDomain[0]} x2={wheatXDomain[1]} y1={wheatYDomain[0]} y2={wheatYDomain[1]}
            fill="none" fillOpacity={0} stroke={INK} strokeWidth={1} ifOverflow="visible" />
          <ReferenceLine x={wheatQuantileP} stroke="#333" strokeDasharray="4.5 3.5" />
          <ReferenceLine y={wheatQuantilePM} stroke="#333" strokeDasharray="4.5 3.5" />
          <Scatter data={wheatData} isAnimationActive={false} shape={circleShape(3.3)} />
        </ScatterChart>
      </div>
      {/* Mice */}
      <div style={abs(560, 0)}>
        <ScatterChart width={600} height={527} margin={{ top: 43.3, right: 35.4, bottom: 36.3, left: 50 }}>
          <XAxis dataKey="x" type="number" domain={miceXDomain} ticks={miceXTicks} allowDataOverflow interval={0}
            axisLine={false} tickLine={{ stroke: INK }} tickSize={9} tickMargin={0} height={40} tick={makeXTick(fmt1, 18)} />
          <YAxis dataKey="y" type="number" domain={miceYDomain} ticks={miceYTicks} allowDataOverflow interval={0}
            axisLine={false} tickLine={{ stroke: INK }} tickSize={9} tickMargin={0} width={40} tick={makeYTick(fmt1, 17)} />
          <ReferenceArea x1={miceXDomain[0]} x2={miceXDomain[1]} y1={miceYDomain[0]} y2={miceYDomain[1]}
            fill="none" fillOpacity={0} stroke={INK} strokeWidth={1} ifOverflow="visible" />
          <ReferenceLine x={miceQuantileP} stroke="#333" strokeDasharray="4.5 3.5" />
          <ReferenceLine y={miceQuantilePM} stroke="#333" strokeDasharray="4.5 3.5" />
          <Scatter data={miceData} isAnimationActive={false} shape={circleShape(3.1)} />
        </ScatterChart>
      </div>

      <Label cx={316} cy={15} text="Wheat" size={18.5} bold />
      <Label cx={887} cy={15} text="Mice" size={18.5} bold />
      <Label cx={316} cy={507} text="Predicted Gen. value with P" />
      <Label cx={887} cy={516} text="Predicted Gen. value with P" />
      <Label cx={20} cy={241} text="Predicted Gen. value with P&M" rotate />
      <Label cx={594} cy={246} text="Predicted Gen. value with P&M" rotate />
      <LegendKey x1={128} x2={158} y={83} tx={185} />
      <LegendKey x1={716} x2={743} y={125} tx={751} />
    </div>
  );
}
